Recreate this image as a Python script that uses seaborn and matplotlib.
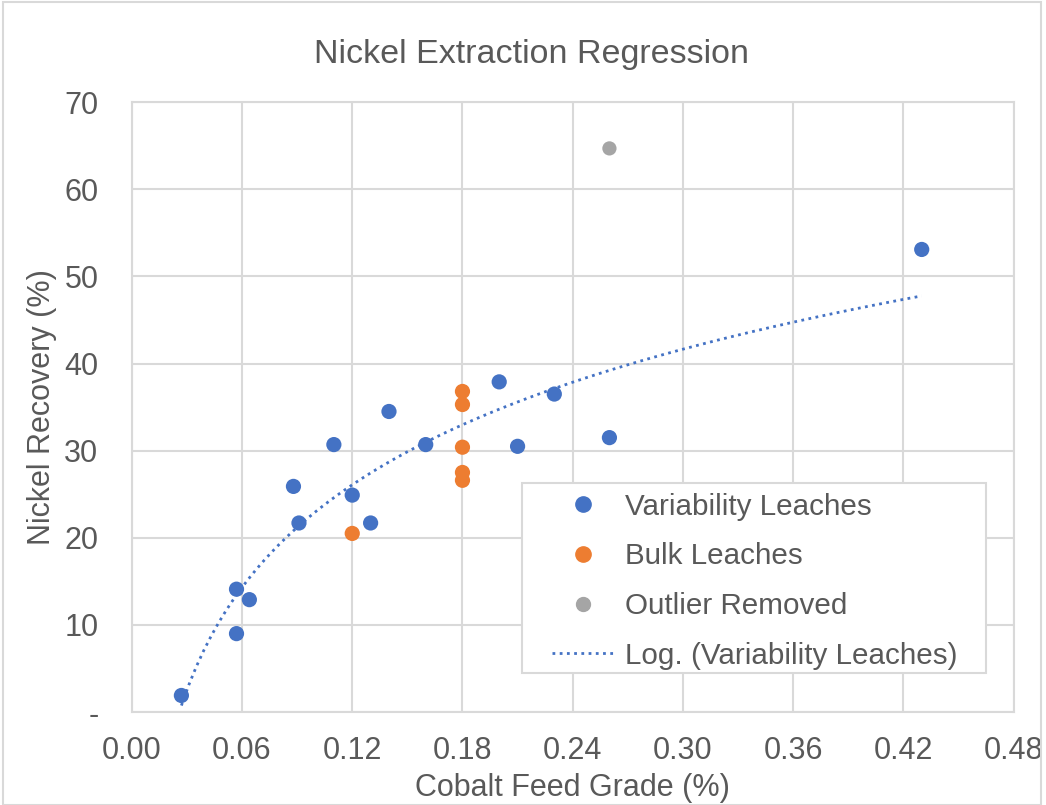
import numpy as np
import pandas as pd
import matplotlib
matplotlib.use('Agg')
import matplotlib.pyplot as plt
import seaborn as sns
from matplotlib.lines import Line2D

# Variability leaches (blue)
var_x = [0.027, 0.057, 0.064, 0.057, 0.088, 0.091, 0.110, 0.120, 0.130, 0.140, 0.160, 0.200, 0.210, 0.230, 0.260, 0.430]
var_y = [1.9, 14.1, 12.9, 9.0, 25.9, 21.7, 30.7, 24.9, 21.7, 34.5, 30.7, 37.9, 30.5, 36.5, 31.5, 53.1]

# Bulk leaches (orange)
bulk_x = [0.12, 0.18, 0.18, 0.18, 0.18, 0.18]
bulk_y = [20.5, 36.8, 35.3, 30.4, 27.5, 26.6]

# Outlier (grey)
out_x = [0.26]
out_y = [64.7]

x_ticks = [0.00, 0.06, 0.12, 0.18, 0.24, 0.30, 0.36, 0.42, 0.48]
y_ticks = [0, 10, 20, 30, 40, 50, 60, 70]
y_ticklabels = ['-', '10', '20', '30', '40', '50', '60', '70']
labels = ['Variability Leaches', 'Bulk Leaches', 'Outlier Removed', 'Log. (Variability Leaches)']

sns.set_style('white')
plt.rcParams['font.family'] = ['Liberation Sans', 'DejaVu Sans']
txt = '#595959'
grid_c = '#D9D9D9'
blue, orange, grey = '#4472C4', '#ED7D31', '#A5A5A5'

fig = plt.figure(figsize=(10.46, 8.05), dpi=100)
ax = fig.add_axes([0.126, 0.1155, 0.843, 0.7575])

var_df = pd.DataFrame({'x': var_x, 'y': var_y})
sns.scatterplot(x=bulk_x, y=bulk_y, color=orange, s=120, edgecolor='none', ax=ax, zorder=3)
sns.scatterplot(x=out_x, y=out_y, color=grey, s=105, edgecolor='none', ax=ax, zorder=3)
sns.scatterplot(data=var_df, x='x', y='y', color=blue, s=120, edgecolor='none', ax=ax, zorder=3)
# logarithmic trendline fitted on the variability leaches
sns.regplot(data=var_df, x='x', y='y', logx=True, scatter=False, ci=None, ax=ax,
            line_kws=dict(color=blue, lw=2, ls=(0, (1, 1.6)), zorder=2))

ax.set_xlim(0, 0.48)
ax.set_ylim(0, 70)
ax.set_xticks(x_ticks)
ax.set_xticklabels([f'{t:.2f}' for t in x_ticks])
ax.set_yticks(y_ticks)
ax.set_yticklabels(y_ticklabels)
ax.grid(True, color=grid_c, lw=1.5)
ax.set_axisbelow(True)
for s in ax.spines.values():
    s.set_color(grid_c)
    s.set_linewidth(1.5)
ax.tick_params(length=0, labelsize=22, colors=txt)
ax.tick_params(axis='y', pad=24)
ax.tick_params(axis='x', pad=17)
ax.set_xlabel('Cobalt Feed Grade (%)', fontsize=22, color=txt, labelpad=5)
ax.set_ylabel('Nickel Recovery (%)', fontsize=22, color=txt, labelpad=5)
fig.text(532 / 1046, 1 - 63 / 805, 'Nickel Extraction Regression', ha='center', va='baseline',
         fontsize=24.5, color=txt)

# legend box drawn separately so the padding matches the original
ax.add_patch(plt.Rectangle((0.442, 0.064), 0.527, 0.311, transform=ax.transAxes,
                           facecolor='white', edgecolor=grid_c, lw=1.5, zorder=4))
handles = [
    Line2D([], [], marker='o', ls='none', color=blue, markersize=11),
    Line2D([], [], marker='o', ls='none', color=orange, markersize=11),
    Line2D([], [], marker='o', ls='none', color=grey, markersize=10),
    Line2D([], [], color=blue, lw=2, ls=(0, (1, 1.6))),
]
leg = ax.legend(handles, labels, loc='upper left', bbox_to_anchor=(0.477, 0.3595),
                fontsize=21.3, frameon=False, labelcolor=txt, borderpad=0, borderaxespad=0,
                handlelength=2.07, handletextpad=0.38, labelspacing=0.73)
leg.set_zorder(5)

fig.patches.append(plt.Rectangle((0.003, 0.0), 0.992, 0.998, transform=fig.transFigure,
                                 fill=False, edgecolor=grid_c, lw=1.5))

fig.savefig('out.png', dpi=100)
